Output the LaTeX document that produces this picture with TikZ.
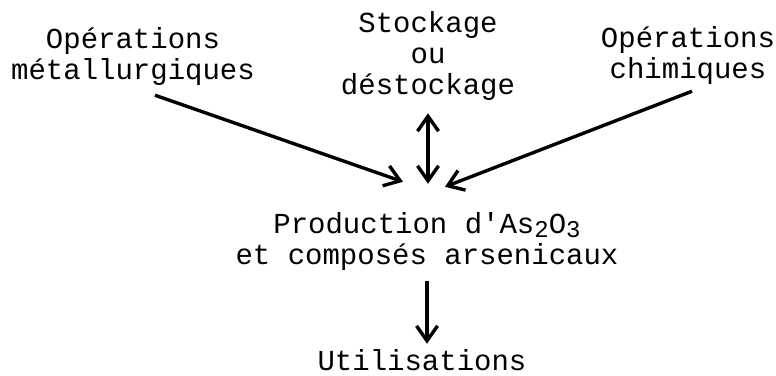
\documentclass[tikz,border=0pt]{standalone}
\usepackage{fontspec}
\setmonofont{Liberation Mono}
\usepackage{tikz}
\usetikzlibrary{arrows.meta, positioning}
\newcommand{\lowdigit}[1]{\raisebox{-4pt}{\fontsize{24}{24}\selectfont #1}}
\tikzset{
  lbl/.style  = {font=\ttfamily\fontsize{29}{31}\selectfont, align=center,
                 inner sep=0pt, anchor=base},
  flux/.style = {-{Straight Barb[length=15pt,width=21pt]}, line width=3.4pt},
  flux2/.style = {{Straight Barb[length=15pt,width=21pt]}-{Straight Barb[length=15pt,width=21pt]},
                 line width=3.4pt},
}

\begin{document}
\begin{tikzpicture}[x=1pt, y=-1pt]
  \useasboundingbox (0,0) rectangle (776,375);
  % sources (base = last line)
  \node[lbl] (metal) at (133,79) {Opérations\\métallurgiques};
  \node[lbl] (stock) at (428,94) {Stockage\\ou\\déstockage};
  \node[lbl] (chem)  at (688,78) {Opérations\\chimiques};
  % production
  \node[lbl] (prod)  at (427,264) {Production d'As\lowdigit{2}O\lowdigit{3}\\et composés arsenicaux};
  \node[lbl] (util)  at (422,370) {Utilisations};
  % arrows
  \draw[flux] ([shift={(22,10)}]metal.south) -- ([shift={(-24,-30)}]prod.north);
  \draw[flux] ([shift={(4,7)}]chem.south) -- ([shift={(18,-25)}]prod.north);
  \draw[flux2, shorten <=13pt, shorten >=28pt] (stock.south) -- (stock.south |- prod.north);
  \draw[flux, shorten <=11pt, shorten >=5pt] (prod.south) -- (prod.south |- util.north);
\end{tikzpicture}
\end{document}
